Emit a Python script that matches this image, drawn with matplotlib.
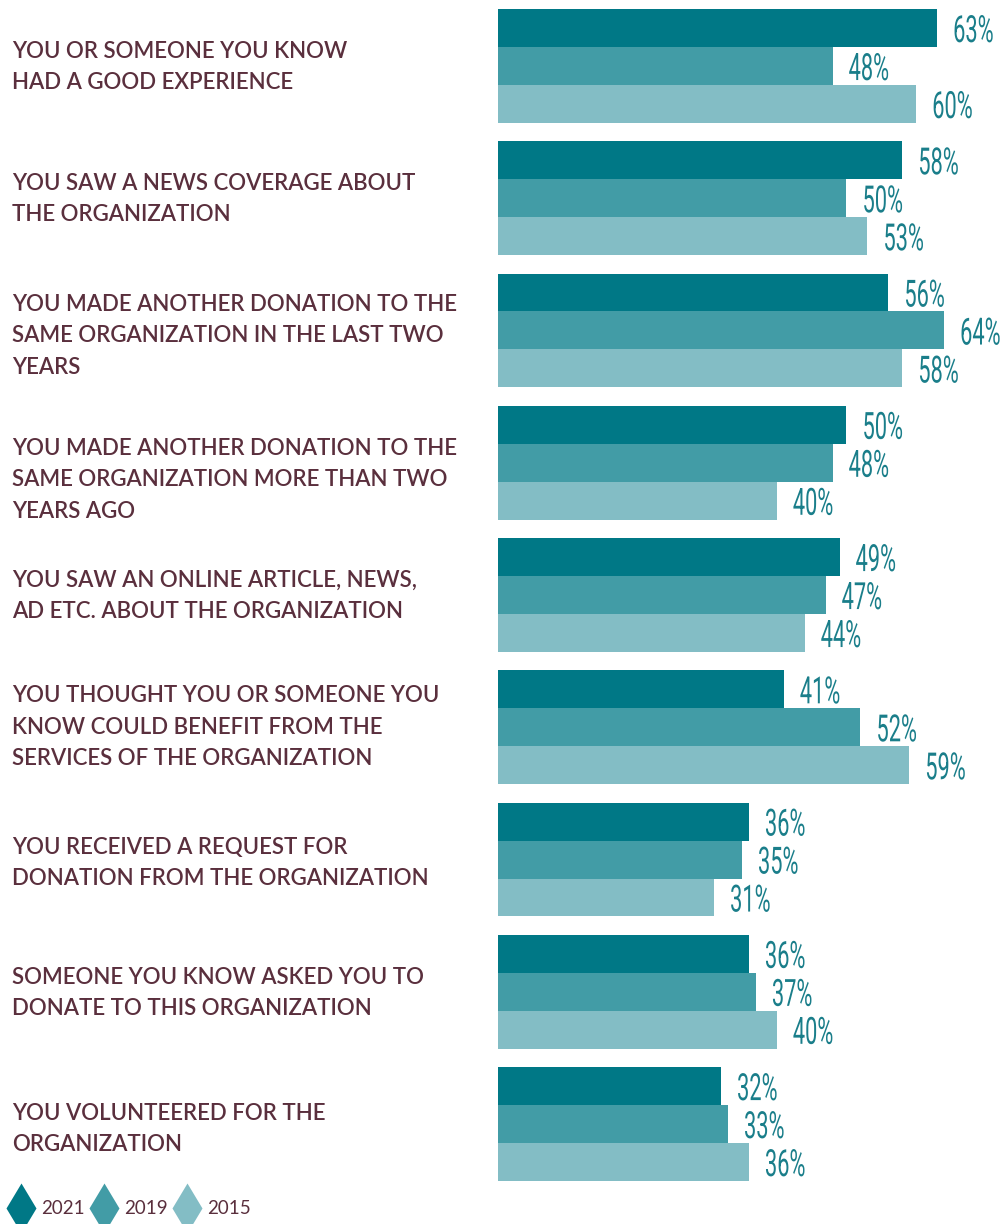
import matplotlib
matplotlib.use("Agg")
import matplotlib.pyplot as plt
from matplotlib import patheffects
from matplotlib.transforms import Affine2D

categories = [
    "YOU OR SOMEONE YOU KNOW\nHAD A GOOD EXPERIENCE",
    "YOU SAW A NEWS COVERAGE ABOUT\nTHE ORGANIZATION",
    "YOU MADE ANOTHER DONATION TO THE\nSAME ORGANIZATION IN THE LAST TWO\nYEARS",
    "YOU MADE ANOTHER DONATION TO THE\nSAME ORGANIZATION MORE THAN TWO\nYEARS AGO",
    "YOU SAW AN ONLINE ARTICLE, NEWS,\nAD ETC. ABOUT THE ORGANIZATION",
    "YOU THOUGHT YOU OR SOMEONE YOU\nKNOW COULD BENEFIT FROM THE\nSERVICES OF THE ORGANIZATION",
    "YOU RECEIVED A REQUEST FOR\nDONATION FROM THE ORGANIZATION",
    "SOMEONE YOU KNOW ASKED YOU TO\nDONATE TO THIS ORGANIZATION",
    "YOU VOLUNTEERED FOR THE\nORGANIZATION",
]
years = ["2021", "2019", "2015"]
v2021 = [63, 58, 56, 50, 49, 41, 36, 36, 32]
v2019 = [48, 50, 64, 48, 47, 52, 35, 37, 33]
v2015 = [60, 53, 58, 40, 44, 59, 31, 40, 36]

colors = ["#007886", "#429ca6", "#83bdc5"]
label_color = "#5a2f3d"
value_color = "#1a7e8a"


class Stretch(patheffects.AbstractPathEffect):
    """Draw text glyphs scaled about the text's baseline origin (tall, narrow numerals)."""

    def __init__(self, sx, sy):
        super().__init__()
        self.sx, self.sy = sx, sy

    def draw_path(self, renderer, gc, tpath, affine, rgbFace=None):
        renderer.draw_path(gc, tpath, Affine2D().scale(self.sx, self.sy) + affine, rgbFace)


W, H = 1003, 1224
fig = plt.figure(figsize=(W / 100, H / 100), dpi=100)

# bar area in pixels
x0_px, y_top_px, y_bot_px = 498, 9, 1181
px_per_pct = 6.97
ax = fig.add_axes([x0_px / W, 1 - y_bot_px / H, (W - x0_px) / W, (y_bot_px - y_top_px) / H])

group_pitch = 3.482
bar_h = 1.0
series = [v2021, v2019, v2015]
for j, vals in enumerate(series):
    ys = [i * group_pitch + j * bar_h + bar_h / 2 for i in range(len(vals))]
    ax.barh(ys, vals, height=bar_h, color=colors[j], edgecolor="none")

ax.set_xlim(0, (W - x0_px) / px_per_pct)
ax.set_ylim((len(categories) - 1) * group_pitch + 3 * bar_h, 0)
ax.axis("off")

# value labels: tall, condensed numerals sitting on a baseline below the bar centre
for j, vals in enumerate(series):
    for i, v in enumerate(vals):
        y = i * group_pitch + j * bar_h + bar_h / 2
        ax.text(v + 2.3, y + 0.37, f"{v}%", va="baseline", ha="left",
                fontsize=15.7, color=value_color, family=["Roboto", "DejaVu Sans"],
                fontweight="normal", path_effects=[Stretch(1.0, 1.72)])

# category labels, vertical centres in pixels
label_centres = [67, 199, 336, 480, 596, 727, 863, 993, 1129]
for text, yc in zip(categories, label_centres):
    fig.text(12 / W, 1 - yc / H, text, ha="left", va="center",
             fontsize=16, color=label_color, family=["Lato", "DejaVu Sans"],
             fontweight="semibold", linespacing=1.63)

# legend strip along the bottom edge, in pixel units
lax = fig.add_axes([0, 0, 1, 40 / H])
lax.set_xlim(0, W)
lax.set_ylim(40, 0)
lax.axis("off")
legend_x = [21, 104, 187]
for c, yr, lx in zip(colors, years, legend_x):
    lax.plot([lx], [24], marker="d", markersize=25, markerfacecolor=c,
             markeredgecolor="none", linestyle="none", clip_on=False)
    lax.text(lx + 20, 24, yr, ha="left", va="center", fontsize=13.5,
             color=label_color, family=["Lato", "DejaVu Sans"])

fig.savefig("out.png", dpi=100)
